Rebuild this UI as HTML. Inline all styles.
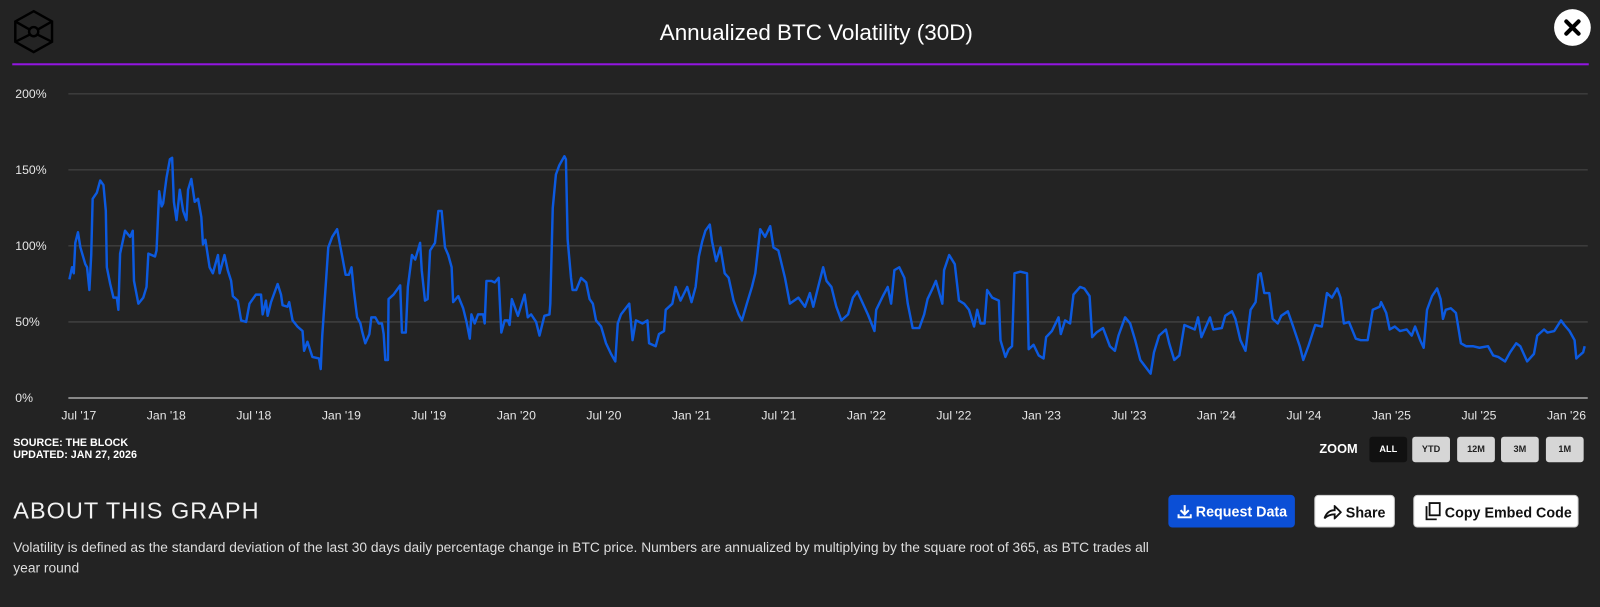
<!DOCTYPE html>
<html><head><meta charset="utf-8">
<style>
html,body{margin:0;padding:0;background:#232323;width:1600px;height:595px;overflow:hidden;font-family:"Liberation Sans",sans-serif;color:#fff}
#wrap{position:absolute;left:0;top:0;width:1600px;height:595px;transform:scale(1.0204);transform-origin:0 0}
#title{position:absolute;left:0;width:1600px;top:19px;text-align:center;font-size:22px;color:#fff}
#rule{position:absolute;left:12px;width:1545px;top:62px;height:2px;background:#9216e0}
.zb{position:absolute;top:428px;height:25px;width:37px;border-radius:3px;background:#d6d6d6;color:#222;font-size:9px;font-weight:bold;text-align:center;line-height:25px}
.btn{position:absolute;top:485px;height:32px;border-radius:4px;background:#fff;color:#111;font-size:14px;font-weight:bold;line-height:32px;box-sizing:border-box}
</style></head><body>
<div id="wrap">
<svg style="position:absolute;left:12px;top:9px" width="42" height="44" viewBox="0 0 42 44">
<g fill="none" stroke="#000" stroke-width="2.4"><polygon points="21,2 39,12 39,32 21,42 3,32 3,12"/><line x1="3" y1="12" x2="17" y2="20"/><line x1="39" y1="12" x2="25" y2="20"/><line x1="3" y1="32" x2="17" y2="25"/><line x1="39" y1="32" x2="25" y2="25"/><circle cx="21" cy="22" r="4.5"/></g></svg>
<div id="title">Annualized BTC Volatility (30D)</div>
<div style="position:absolute;left:1523px;top:9px;width:36px;height:36px;border-radius:50%;background:#fff">
<svg width="36" height="36"><g stroke="#000" stroke-width="4" stroke-linecap="round"><line x1="12" y1="12" x2="24" y2="24"/><line x1="24" y1="12" x2="12" y2="24"/></g></svg></div>
<div id="rule"></div>
<svg id="chart" style="position:absolute;left:0;top:0" width="1600" height="420"></svg>
<div style="position:absolute;left:13px;top:428px;font-size:10.5px;font-weight:bold;line-height:12px">SOURCE: THE BLOCK<br>UPDATED: JAN 27, 2026</div>
<div style="position:absolute;left:1293px;top:433px;font-size:12.5px;font-weight:bold">ZOOM</div>
<div class="zb" style="left:1342px;background:#111;color:#fff">ALL</div>
<div class="zb" style="left:1384px">YTD</div>
<div class="zb" style="left:1428px">12M</div>
<div class="zb" style="left:1471px">3M</div>
<div class="zb" style="left:1515px">1M</div>
<div style="position:absolute;left:13px;top:487px;font-size:23px;letter-spacing:1px;color:#f2f2f2">ABOUT THIS GRAPH</div>
<div style="position:absolute;left:13px;top:527px;width:1130px;font-size:13.5px;line-height:20px;color:#ddd">Volatility is defined as the standard deviation of the last 30 days daily percentage change in BTC price. Numbers are annualized by multiplying by the square root of 365, as BTC trades all year round</div>
<div class="btn" style="left:1145px;width:124px;background:#0b4fd6;color:#fff;padding-left:9px">
<svg width="14" height="14" style="vertical-align:-2px"><g stroke="#fff" stroke-width="2" fill="none"><line x1="7" y1="1" x2="7" y2="9"/><polyline points="3,6 7,10 11,6"/><polyline points="1,10 1,13 13,13 13,10"/></g></svg> Request Data</div>
<div class="btn" style="left:1288px;width:79px;padding-left:8px;border:1px solid #ccc">
<svg width="18" height="14" style="vertical-align:-2px"><path d="M1,13 C3,7 7,5 11,5 L11,1 L17,7 L11,13 L11,9 C7,9 4,10 1,13Z" fill="none" stroke="#111" stroke-width="1.8"/></svg> Share</div>
<div class="btn" style="left:1385px;width:162px;padding-left:10px;border:1px solid #ccc">
<svg width="16" height="18" style="vertical-align:-3px"><g fill="none" stroke="#111" stroke-width="1.8"><rect x="5" y="1" width="10" height="12"/><polyline points="2,4 2,17 12,17"/></g></svg> Copy Embed Code</div>
</div>
<script>
const dates=[2017.446,2017.461,2017.471,2017.480,2017.495,2017.509,2017.537,2017.547,2017.560,2017.571,2017.579,2017.603,2017.622,2017.641,2017.654,2017.660,2017.679,2017.698,2017.717,2017.726,2017.736,2017.764,2017.793,2017.808,2017.815,2017.840,2017.868,2017.887,2017.897,2017.935,2017.944,2017.959,2017.973,2017.982,2018.001,2018.020,2018.033,2018.043,2018.058,2018.077,2018.096,2018.115,2018.124,2018.143,2018.162,2018.181,2018.200,2018.209,2018.223,2018.247,2018.266,2018.295,2018.304,2018.332,2018.351,2018.370,2018.380,2018.408,2018.427,2018.456,2018.475,2018.512,2018.541,2018.550,2018.569,2018.579,2018.598,2018.636,2018.655,2018.664,2018.692,2018.702,2018.721,2018.749,2018.778,2018.787,2018.806,2018.834,2018.872,2018.882,2018.891,2018.910,2018.925,2018.948,2018.976,2018.995,2019.005,2019.024,2019.043,2019.058,2019.071,2019.090,2019.109,2019.118,2019.137,2019.160,2019.171,2019.194,2019.213,2019.232,2019.242,2019.251,2019.266,2019.270,2019.298,2019.317,2019.336,2019.346,2019.368,2019.380,2019.403,2019.422,2019.450,2019.459,2019.478,2019.493,2019.507,2019.535,2019.554,2019.573,2019.592,2019.611,2019.630,2019.639,2019.668,2019.696,2019.715,2019.734,2019.743,2019.762,2019.781,2019.810,2019.819,2019.829,2019.857,2019.876,2019.899,2019.914,2019.933,2019.952,2019.961,2019.974,2020.009,2020.047,2020.065,2020.084,2020.113,2020.132,2020.160,2020.189,2020.194,2020.208,2020.226,2020.245,2020.274,2020.283,2020.293,2020.312,2020.321,
2020.342,2020.370,2020.399,2020.418,2020.437,2020.455,2020.484,2020.512,2020.541,2020.565,2020.579,2020.598,2020.645,2020.664,2020.683,2020.721,2020.749,2020.758,2020.796,2020.815,2020.844,2020.853,2020.891,2020.910,2020.938,2020.976,2021.001,2021.024,2021.043,2021.062,2021.080,2021.105,2021.118,2021.141,2021.166,2021.190,2021.213,2021.241,2021.270,2021.289,2021.317,2021.346,2021.365,2021.393,2021.421,2021.450,2021.469,2021.497,2021.535,2021.563,2021.611,2021.649,2021.677,2021.696,2021.724,2021.753,2021.772,2021.800,2021.828,2021.857,2021.895,2021.923,2021.948,2021.980,2022.008,2022.046,2022.056,2022.094,2022.122,2022.141,2022.160,2022.188,2022.217,2022.236,2022.264,2022.302,2022.330,2022.349,2022.378,2022.397,2022.434,2022.444,2022.473,2022.505,2022.529,2022.558,2022.586,2022.615,2022.633,2022.652,2022.675,2022.690,2022.719,2022.757,2022.766,2022.794,2022.813,2022.832,2022.846,2022.880,2022.918,2022.927,2022.955,2022.984,2023.012,2023.027,2023.060,2023.098,2023.111,2023.135,2023.164,2023.183,2023.221,2023.245,
2023.275,2023.290,2023.314,2023.352,2023.391,2023.420,2023.440,2023.478,2023.507,2023.536,2023.565,2023.624,2023.643,2023.672,2023.711,2023.730,2023.759,2023.788,2023.817,2023.876,2023.895,2023.914,2023.963,2023.982,2024.031,2024.050,2024.089,2024.108,2024.137,2024.166,2024.195,2024.224,2024.240,2024.253,2024.273,2024.302,2024.321,2024.350,2024.370,2024.408,2024.438,2024.476,2024.496,2024.525,2024.564,2024.602,2024.631,2024.660,2024.690,2024.709,2024.728,2024.757,2024.796,2024.825,2024.864,2024.893,2024.932,2024.941,2024.970,2024.990,2025.019,2025.048,2025.087,2025.116,2025.135,2025.164,2025.184,2025.203,2025.232,2025.261,2025.281,2025.294,2025.310,2025.339,2025.368,2025.397,2025.426,2025.465,2025.503,2025.552,2025.581,2025.610,2025.649,2025.678,2025.713,2025.736,2025.775,2025.814,2025.833,2025.872,2025.891,2025.930,2025.969,2025.988,2026.017,2026.046,2026.056,2026.075,2026.095,2026.104];
const vols=[78,86,82,102,109,99,88,86,71,94,131,135,143,140,123,86,75,66,66,58,95,110,106,110,77,62,66,73,95,93,97,136,126,128,145,157,158,129,117,137,123,117,137,144,129,131,119,101,104,86,82,94,82,94,84,77,67,64,51,50,62,68,68,55,64,54,63,75,68,61,60,63,51,47,44,31,37,27,26,19,41,73,99,106,111,99,93,81,81,86,71,53,49,44,36,42,53,53,49,49,42,25,25,65,68,71,74,43,43,73,94,91,102,84,64,65,97,102,123,123,99,94,86,63,67,59,50,39,55,49,55,55,49,77,77,76,79,43,51,51,48,65,54,68,53,55,50,41,54,55,62,125,147,153,159,157,104,79,71,
71,79,76,65,62,51,47,36,29,24,49,55,62,38,51,49,51,36,34,42,44,58,62,73,64,73,63,73,93,103,110,114,103,90,99,82,79,64,55,51,62,73,82,111,106,113,99,97,79,62,66,60,69,60,73,86,77,73,60,51,55,66,70,62,55,44,58,67,73,62,84,86,79,62,46,46,55,65,72,77,62,84,94,88,64,62,58,47,58,49,49,71,66,64,38,27,32,34,82,83,82,32,35,28,26,40,44,53,42,51,49,68,73,72,
67,40,43,46,34,31,41,53,49,38,25,16,30,41,45,36,25,28,48,45,53,40,53,45,46,54,57,52,38,31,58,63,81,82,69,69,52,49,54,57,47,34,25,34,48,47,69,66,72,66,49,50,39,38,38,58,60,63,56,45,47,44,45,41,47,38,33,58,67,72,65,52,58,59,56,36,34,34,33,34,28,27,24,30,36,34,24,29,41,45,43,44,51,48,44,38,26,28,30,34];
const yTicks=[0,50,100,150,200];
const yTickLabels=["0%","50%","100%","150%","200%"];
const xTicks=[2017.5,2018,2018.5,2019,2019.5,2020,2020.5,2021,2021.5,2022,2022.5,2023,2023.5,2024,2024.5,2025,2025.5,2026];
const xTickLabels=["Jul '17","Jan '18","Jul '18","Jan '19","Jul '19","Jan '20","Jul '20","Jan '21","Jul '21","Jan '22","Jul '22","Jan '23","Jul '23","Jan '24","Jul '24","Jan '25","Jul '25","Jan '26"];
const NS="http://www.w3.org/2000/svg";
const svg=document.getElementById('chart');
const X0=68,X1=1553,Y0=390,Y1=92;
const tMin=dates[0],tMax=dates[dates.length-1];
function xs(t){return X0+(t-tMin)/(tMax-tMin)*(X1-X0);}
function ys(v){return Y0-(v/200)*(Y0-Y1);}
function mk(tag,attrs){const e=document.createElementNS(NS,tag);for(const k in attrs)e.setAttribute(k,attrs[k]);svg.appendChild(e);return e;}
yTicks.forEach((v,i)=>{
  if(v>0){const g=mk('line',{x1:67,x2:1556,y1:ys(v),y2:ys(v),stroke:'#4a4a4a','stroke-width':1});
  
  }
  const t=mk('text',{x:15,y:ys(v)+4,fill:'#e6e6e6','font-size':12,'font-family':'Liberation Sans, sans-serif'});
  t.textContent=yTickLabels[i];
  
  
});
const ax=mk('line',{x1:67,x2:1556,y1:Y0,y2:Y0,stroke:'#aaa','stroke-width':1.5});


xTicks.forEach((t,i)=>{
  const e=mk('text',{x:xs(t),y:411,fill:'#e6e6e6','font-size':12,'text-anchor':'middle','font-family':'Liberation Sans, sans-serif'});
  e.textContent=xTickLabels[i];
  
  
});
let d='';
dates.forEach((t,i)=>{d+=(i?'L':'M')+xs(t).toFixed(1)+','+ys(vols[i]).toFixed(1);});
const p=mk('path',{d:d,fill:'none',stroke:'#0c5ae0','stroke-width':2.4,'stroke-linejoin':'round'});


</script>
</body></html>
